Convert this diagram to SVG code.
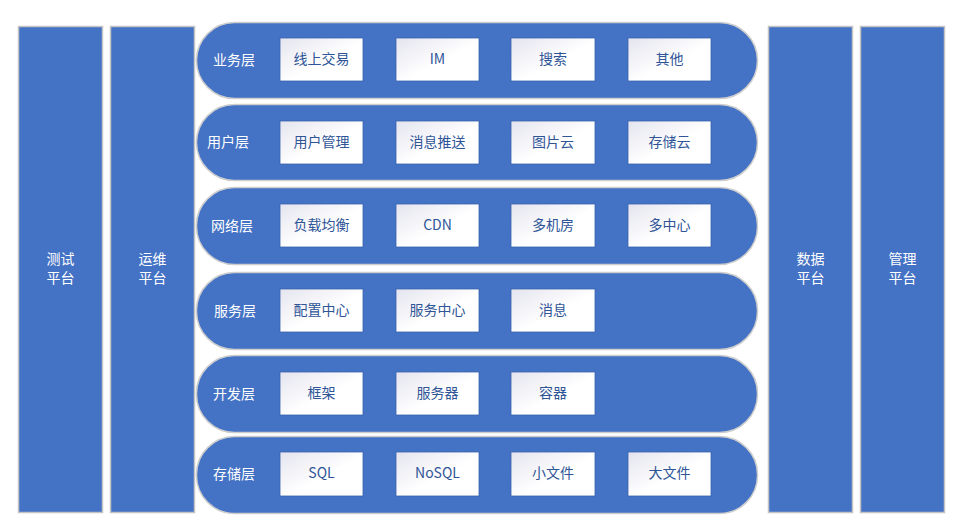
<svg xmlns="http://www.w3.org/2000/svg" width="956" height="529" viewBox="0 0 956 529">
<style>
.bar{fill:#4472C4;stroke:#C4C4C4;stroke-width:1.5}
.pill{fill:#4472C4;stroke:#CDCDCD;stroke-width:1.5}
.box{fill:url(#bg);stroke:#3B62AE;stroke-width:0.8}
.lbl{font-family:"Microsoft YaHei","Noto Sans CJK SC","Noto Sans",sans-serif;font-size:14px;fill:#FFFFFF;dominant-baseline:central}
.bt{font-family:"Microsoft YaHei","Noto Sans CJK SC","Noto Sans",sans-serif;font-size:14px;fill:#2F5597;text-anchor:middle;dominant-baseline:central}
.vt{font-family:"Microsoft YaHei","Noto Sans CJK SC","Noto Sans",sans-serif;font-size:14px;fill:#FFFFFF;text-anchor:middle;dominant-baseline:central}
</style>
<defs>
<linearGradient id="bg" x1="0" y1="0" x2="1" y2="1">
<stop offset="0" stop-color="#E4E4EF"/>
<stop offset="0.55" stop-color="#FFFFFF"/>
<stop offset="1" stop-color="#FFFFFF"/>
</linearGradient>
</defs>
<rect width="956" height="529" fill="#FFFFFF"/>
<g id="test-platform"><rect class="bar" x="18.5" y="26.5" width="84" height="486"/><text class="vt" x="60.5" y="258">测试</text><text class="vt" x="60.5" y="277">平台</text></g>
<g id="ops-platform"><rect class="bar" x="110.5" y="26.5" width="84" height="486"/><text class="vt" x="152.5" y="258">运维</text><text class="vt" x="152.5" y="277">平台</text></g>
<g id="data-platform"><rect class="bar" x="768.5" y="26.5" width="84" height="486"/><text class="vt" x="810.5" y="258">数据</text><text class="vt" x="810.5" y="277">平台</text></g>
<g id="mgmt-platform"><rect class="bar" x="860.5" y="26.5" width="84" height="486"/><text class="vt" x="902.5" y="258">管理</text><text class="vt" x="902.5" y="277">平台</text></g>

<g id="layer-business">
<rect class="pill" x="196.5" y="22.5" width="561" height="76" rx="38" ry="38"/>
<text class="lbl" x="213" y="59">业务层</text>
<rect class="box" x="280" y="38" width="83" height="43"/><text class="bt" x="321.5" y="58">线上交易</text>
<rect class="box" x="396" y="38" width="83" height="43"/><text class="bt" x="437.5" y="58">IM</text>
<rect class="box" x="511" y="38" width="84" height="43"/><text class="bt" x="553" y="58">搜索</text>
<rect class="box" x="628" y="38" width="83" height="43"/><text class="bt" x="669.5" y="58">其他</text>
</g>
<g id="layer-user">
<rect class="pill" x="196.5" y="104.5" width="561" height="76" rx="38" ry="38"/>
<text class="lbl" x="207" y="141">用户层</text>
<rect class="box" x="280" y="121" width="83" height="43"/><text class="bt" x="321.5" y="140.5">用户管理</text>
<rect class="box" x="396" y="121" width="83" height="43"/><text class="bt" x="437.5" y="140.5">消息推送</text>
<rect class="box" x="511" y="121" width="84" height="43"/><text class="bt" x="553" y="140.5">图片云</text>
<rect class="box" x="628" y="121" width="83" height="43"/><text class="bt" x="669.5" y="140.5">存储云</text>
</g>
<g id="layer-network">
<rect class="pill" x="196.5" y="187.5" width="561" height="77" rx="38" ry="38"/>
<text class="lbl" x="211" y="224.5">网络层</text>
<rect class="box" x="280" y="204" width="83" height="43"/><text class="bt" x="321.5" y="223.5">负载均衡</text>
<rect class="box" x="396" y="204" width="83" height="43"/><text class="bt" x="437.5" y="223.5">CDN</text>
<rect class="box" x="511" y="204" width="84" height="43"/><text class="bt" x="553" y="223.5">多机房</text>
<rect class="box" x="628" y="204" width="83" height="43"/><text class="bt" x="669.5" y="223.5">多中心</text>
</g>
<g id="layer-service">
<rect class="pill" x="196.5" y="272.5" width="561" height="77" rx="38" ry="38"/>
<text class="lbl" x="214" y="309.5">服务层</text>
<rect class="box" x="280" y="289" width="83" height="43"/><text class="bt" x="321.5" y="308.5">配置中心</text>
<rect class="box" x="396" y="289" width="83" height="43"/><text class="bt" x="437.5" y="308.5">服务中心</text>
<rect class="box" x="511" y="289" width="84" height="43"/><text class="bt" x="553" y="308.5">消息</text>
</g>
<g id="layer-dev">
<rect class="pill" x="196.5" y="355.5" width="561" height="77" rx="38" ry="38"/>
<text class="lbl" x="213" y="392.5">开发层</text>
<rect class="box" x="280" y="372" width="83" height="43"/><text class="bt" x="321.5" y="391.5">框架</text>
<rect class="box" x="396" y="372" width="83" height="43"/><text class="bt" x="437.5" y="391.5">服务器</text>
<rect class="box" x="511" y="372" width="84" height="43"/><text class="bt" x="553" y="391.5">容器</text>
</g>
<g id="layer-storage">
<rect class="pill" x="196.5" y="436.5" width="561" height="77" rx="38" ry="38"/>
<text class="lbl" x="213" y="473">存储层</text>
<rect class="box" x="280" y="452" width="83" height="44"/><text class="bt" x="321.5" y="472">SQL</text>
<rect class="box" x="396" y="452" width="83" height="44"/><text class="bt" x="437.5" y="472">NoSQL</text>
<rect class="box" x="511" y="452" width="84" height="44"/><text class="bt" x="553" y="472">小文件</text>
<rect class="box" x="628" y="452" width="83" height="44"/><text class="bt" x="669.5" y="472">大文件</text>
</g>
<g id="connectors"></g>
</svg>
